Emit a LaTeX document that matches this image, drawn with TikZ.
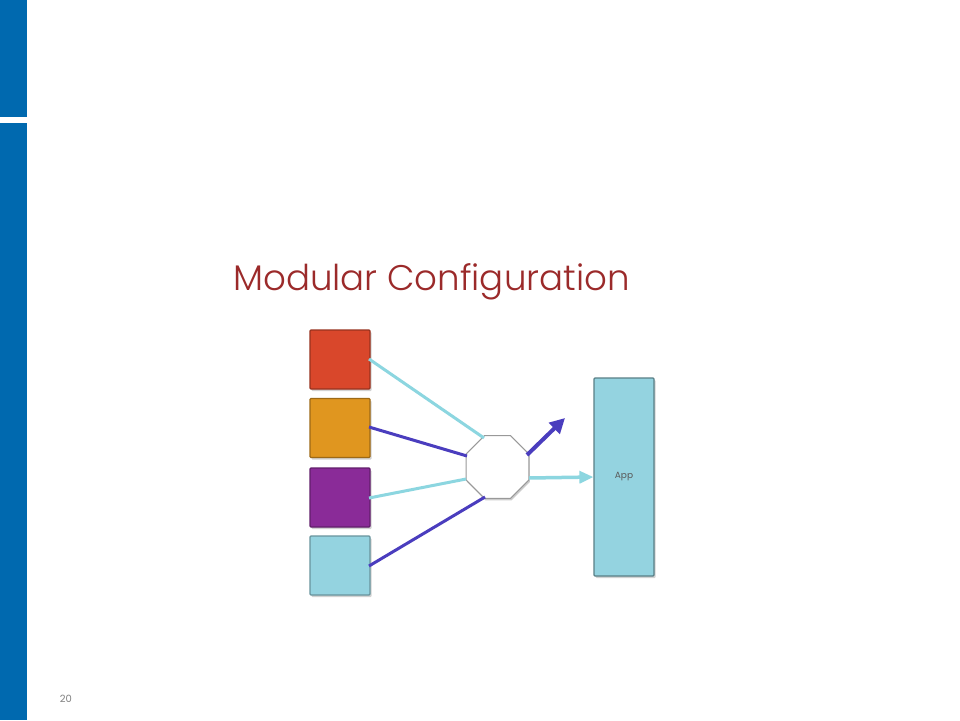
\documentclass[tikz,border=0pt]{standalone}
\usepackage{fontspec}
\setmainfont{Poppins}
\newfontfamily\titlefont{Poppins Light}
\usetikzlibrary{shapes.geometric,arrows.meta,shadows}
\definecolor{barblue}{HTML}{0069AF}
\definecolor{titlered}{HTML}{9B2A2A}
\definecolor{boxred}{HTML}{D9472B}
\definecolor{boxorange}{HTML}{E0961F}
\definecolor{boxpurple}{HTML}{8A2B98}
\definecolor{boxcyan}{HTML}{94D3E0}
\definecolor{linecyan}{HTML}{8CD6E0}
\definecolor{lineblue}{HTML}{4A3DBE}
\tikzset{
  modbox/.style={draw=#1!70!black, fill=#1, line width=1.2pt, minimum width=60pt, minimum height=59pt, inner sep=0pt, rounded corners=1pt,
    drop shadow={shadow xshift=1.5pt, shadow yshift=-2pt, opacity=0.35}},
  cline/.style={draw=linecyan, line width=3pt},
  bline/.style={draw=lineblue, line width=3pt},
}
\begin{document}
\begin{tikzpicture}[x=1pt,y=-1pt]
\useasboundingbox (0,0) rectangle (960,720);
\fill[white] (0,0) rectangle (960,720);
\fill[barblue] (0,0) rectangle (27,117);
\fill[barblue] (0,123) rectangle (27,720);
\node[anchor=base west, text=titlered, font=\titlefont\fontsize{35.6}{40}\selectfont, inner sep=0pt] (title) at (233,290) {Modular Configuration};
\node[anchor=base, text=gray, font=\fontsize{10}{12}\selectfont, inner sep=0pt] (pnum) at (66,702) {20};
% boxes
\node[modbox=boxred] (r) at (340,359.5) {};
\node[modbox=boxorange] (o) at (340,428) {};
\node[modbox=boxpurple] (p) at (340,497.5) {};
\node[modbox=boxcyan] (c) at (340,565.5) {};
% app
\node[draw=boxcyan!60!black, fill=boxcyan, line width=1.2pt, minimum width=60pt, minimum height=198pt, inner sep=0pt, rounded corners=1pt,
  drop shadow={shadow xshift=1.5pt, shadow yshift=-2pt, opacity=0.35}, font=\fontsize{9}{10}\selectfont, text=black!65] (app) at (624,477) {App};
% octagon
\node[regular polygon, regular polygon sides=8, draw=gray!80, fill=white, line width=1pt, minimum size=68pt, inner sep=0pt,
  drop shadow={shadow xshift=1pt, shadow yshift=-2pt, opacity=0.4}] (oct) at (497.5,467) {};
% connector points
\coordinate (re) at (369,359);
\coordinate (oe) at (369,427);
\coordinate (pe) at (369,498);
\coordinate (ce) at (369,566);
\coordinate (t1) at (484,438);
\coordinate (t2) at (467,456);
\coordinate (t3) at (466,479);
\coordinate (t4) at (485,497);
\coordinate (up) at (565,418);
\coordinate (s1) at (527,455);
\coordinate (s2) at (529,478);
\path[cline] (re) -- (t1);
\path[bline] (oe) -- (t2);
\path[cline] (pe) -- (t3);
\path[bline] (ce) -- (t4);
\path[bline, line width=4pt, -{Triangle[length=15pt,width=15pt]}] (s1) -- (up);
\path[cline, line width=3.5pt, -{Triangle[length=14pt,width=12pt]}] (s2) -- (app.west);
\end{tikzpicture}
\end{document}
